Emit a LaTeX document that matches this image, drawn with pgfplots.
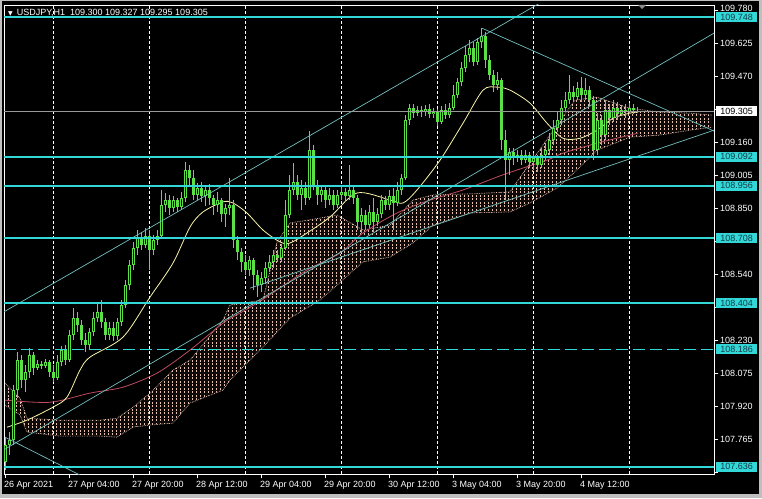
\documentclass[border=0pt]{standalone}
\usepackage{fontspec}
\setmainfont{Liberation Sans}
\newfontfamily\symfont{DejaVu Sans}
\usepackage{xcolor}
\usepackage{pgfplots}
\pgfplotsset{compat=1.18}
\usepackage{pgfplotstable}
\usepgfplotslibrary{fillbetween}
\usetikzlibrary{patterns}

\definecolor{cg}{RGB}{90,225,70}
\definecolor{hl}{RGB}{50,215,215}
\definecolor{tl}{RGB}{115,190,190}
\definecolor{maY}{RGB}{250,245,170}
\definecolor{maR}{RGB}{190,75,95}
\definecolor{cloud}{RGB}{230,190,175}
\definecolor{boxtxt}{RGB}{20,60,70}
\pagecolor{black}

% short vertical dashes, like the hatch of the Ichimoku cloud
\pgfdeclarepatternformonly{vdash}{\pgfqpoint{0pt}{0pt}}{\pgfqpoint{1pt}{2pt}}{\pgfqpoint{4pt}{3.5pt}}%
{\pgfpathrectangle{\pgfqpoint{0pt}{0pt}}{\pgfqpoint{0.8pt}{2pt}}\pgfusepath{fill}}

% USDJPY H1, x = hour index (0 = 26 Apr 12:00)
\pgfplotstableread{
i o h l c
0 107.657 107.774 107.619 107.736
1 107.736 107.798 107.690 107.760
2 107.760 108.018 107.736 107.995
3 107.995 108.174 107.957 108.136
4 108.136 108.159 108.004 108.042
5 108.042 108.113 107.986 108.080
6 108.080 108.192 108.051 108.159
7 108.159 108.174 108.066 108.098
8 108.098 108.136 108.089 108.117
9 108.117 108.131 108.094 108.108
10 108.108 108.141 108.098 108.127
11 108.127 108.136 108.056 108.080
12 108.080 108.113 108.033 108.051
13 108.051 108.159 108.042 108.127
14 108.127 108.202 108.108 108.183
15 108.183 108.207 108.113 108.136
16 108.136 108.277 108.127 108.254
17 108.254 108.380 108.230 108.333
18 108.333 108.362 108.268 108.300
19 108.300 108.324 108.207 108.230
20 108.230 108.263 108.174 108.207
21 108.207 108.286 108.183 108.268
22 108.268 108.362 108.249 108.333
23 108.333 108.409 108.315 108.362
24 108.362 108.418 108.286 108.315
25 108.315 108.333 108.230 108.254
26 108.254 108.315 108.230 108.286
27 108.286 108.315 108.225 108.249
28 108.249 108.333 108.230 108.315
29 108.315 108.418 108.296 108.395
30 108.395 108.512 108.380 108.488
31 108.488 108.606 108.465 108.583
32 108.583 108.691 108.559 108.662
33 108.662 108.747 108.630 108.709
34 108.709 108.738 108.653 108.677
35 108.677 108.756 108.662 108.719
36 108.719 108.747 108.559 108.653
37 108.653 108.724 108.630 108.700
38 108.700 108.747 108.677 108.719
39 108.719 108.935 108.709 108.865
40 108.865 108.921 108.832 108.888
41 108.888 108.912 108.818 108.850
42 108.850 108.907 108.832 108.888
43 108.888 108.897 108.832 108.855
44 108.855 108.926 108.841 108.897
45 108.897 109.066 108.879 109.029
46 109.029 109.052 108.959 108.991
47 108.991 109.029 108.888 108.912
48 108.912 108.968 108.888 108.944
49 108.944 108.973 108.879 108.907
50 108.907 108.959 108.860 108.935
51 108.935 108.963 108.865 108.897
52 108.897 108.912 108.818 108.865
53 108.865 108.926 108.832 108.888
54 108.888 108.897 108.785 108.822
55 108.822 108.869 108.761 108.850
56 108.850 108.991 108.818 108.865
57 108.865 108.888 108.662 108.700
58 108.700 108.719 108.606 108.644
59 108.644 108.662 108.550 108.597
60 108.597 108.630 108.536 108.559
61 108.559 108.625 108.531 108.606
62 108.606 108.615 108.465 108.536
63 108.536 108.559 108.432 108.488
64 108.488 108.550 108.456 108.521
65 108.521 108.597 108.493 108.568
66 108.568 108.630 108.550 108.597
67 108.597 108.653 108.568 108.630
68 108.630 108.653 108.597 108.615
69 108.615 108.681 108.597 108.662
70 108.662 108.888 108.653 108.818
71 108.818 109.006 108.803 108.935
72 108.935 109.061 108.912 108.973
73 108.973 109.006 108.888 108.912
74 108.912 108.982 108.841 108.944
75 108.944 108.973 108.865 108.897
76 108.897 109.211 108.888 109.122
77 109.122 109.146 108.935 108.959
78 108.959 108.982 108.865 108.912
79 108.912 108.959 108.879 108.935
80 108.935 108.954 108.850 108.888
81 108.888 108.944 108.865 108.912
82 108.912 108.935 108.841 108.865
83 108.865 108.935 108.850 108.912
84 108.912 108.954 108.888 108.926
85 108.926 108.944 108.879 108.907
86 108.907 109.052 108.888 108.935
87 108.935 108.954 108.869 108.897
88 108.897 108.912 108.747 108.785
89 108.785 108.850 108.733 108.818
90 108.818 108.841 108.747 108.770
91 108.770 108.865 108.756 108.832
92 108.832 108.897 108.738 108.785
93 108.785 108.850 108.766 108.822
94 108.822 108.912 108.803 108.888
95 108.888 108.907 108.841 108.865
96 108.865 108.935 108.841 108.907
97 108.907 108.944 108.747 108.874
98 108.874 108.973 108.860 108.935
99 108.935 109.010 108.912 108.991
100 108.991 109.287 108.982 109.263
101 109.263 109.338 109.240 109.319
102 109.319 109.338 109.272 109.296
103 109.296 109.329 109.282 109.310
104 109.310 109.329 109.277 109.301
105 109.301 109.334 109.282 109.315
106 109.315 109.338 109.272 109.291
107 109.291 109.319 109.272 109.301
108 109.301 109.315 109.235 109.254
109 109.254 109.329 109.244 109.310
110 109.310 109.338 109.268 109.287
111 109.287 109.343 109.272 109.319
112 109.319 109.428 109.310 109.380
113 109.380 109.460 109.366 109.442
114 109.442 109.536 109.423 109.507
115 109.507 109.611 109.489 109.569
116 109.569 109.639 109.536 109.601
117 109.601 109.630 109.517 109.536
118 109.536 109.648 109.521 109.630
119 109.630 109.695 109.601 109.658
120 109.658 109.677 109.507 109.545
121 109.545 109.569 109.451 109.475
122 109.475 109.498 109.395 109.428
123 109.428 109.489 109.404 109.451
124 109.451 109.460 109.122 109.169
125 109.169 109.216 108.888 109.075
126 109.075 109.131 109.006 109.113
127 109.113 109.131 109.052 109.084
128 109.084 109.122 109.066 109.099
129 109.099 109.122 109.052 109.075
130 109.075 109.122 109.061 109.099
131 109.099 109.113 109.038 109.066
132 109.066 109.108 109.029 109.084
133 109.084 109.099 109.020 109.052
134 109.052 109.131 109.038 109.099
135 109.099 109.155 109.075 109.122
136 109.122 109.202 109.099 109.169
137 109.169 109.263 109.146 109.225
138 109.225 109.301 109.207 109.263
139 109.263 109.357 109.240 109.319
140 109.319 109.395 109.301 109.357
141 109.357 109.475 109.338 109.395
142 109.395 109.423 109.348 109.371
143 109.371 109.442 109.357 109.413
144 109.413 109.465 109.348 109.380
145 109.380 109.460 109.357 109.404
146 109.404 109.423 109.329 109.357
147 109.357 109.376 109.075 109.122
148 109.122 109.296 109.099 109.263
149 109.263 109.287 109.146 109.193
150 109.193 109.357 109.169 109.310
151 109.310 109.338 109.240 109.272
152 109.272 109.357 109.254 109.319
153 109.319 109.348 109.263 109.291
154 109.291 109.334 109.282 109.310
155 109.310 109.338 109.272 109.301
156 109.301 109.343 109.291 109.319
157 109.319 109.338 109.291 109.310
158 109.300 109.327 109.295 109.305
}\candles

\begin{document}
\begin{tikzpicture}[x=1pt,y=1pt]
\path (0,0) rectangle (762,498);
\fill[black!25] (0,0) rectangle (2,498);
\fill[black!25] (759,0) rectangle (762,498);
\fill[black!25] (0,0) rectangle (762,4);
\fill[black!25] (0,497) rectangle (762,498);

\begin{axis}[
  at={(4pt,24pt)}, anchor=south west,
  scale only axis, width=710pt, height=469pt,
  xmin=-0.25, xmax=177.25, ymin=107.601, ymax=109.804,
  axis line style={white, line width=0.8pt},
  xtick={0,16,32,48,64,80,96,112,128,144},
  xticklabels={26 Apr 2021,27 Apr 04:00,27 Apr 20:00,28 Apr 12:00,29 Apr 04:00,29 Apr 20:00,30 Apr 12:00,3 May 04:00,3 May 20:00,4 May 12:00},
  ytick={107.610,107.765,107.920,108.075,108.230,108.385,108.540,108.695,108.850,109.005,109.160,109.315,109.470,109.625,109.780},
  yticklabels={,107.765,107.920,108.075,108.230,,108.540,,108.850,109.005,109.160,,109.470,109.625,\raisebox{4pt}{109.780}},
  xtick pos=lower, ytick pos=right, yticklabel pos=right,
  tick align=outside, major tick length=4pt,
  tick style={white, line width=0.8pt},
  ticklabel style={font=\fontsize{9}{10}\selectfont, text=white},
  xticklabel style={anchor=north west, inner sep=0pt, xshift=-1pt, yshift=-3pt},
  yticklabel style={anchor=west, inner sep=0pt, xshift=2pt},
  extra x ticks={12,36,60,84,108,132,156},
  extra x tick labels={},
  extra x tick style={grid=major, major tick length=0pt,
    major grid style={white, dash pattern=on 3pt off 2pt, line width=0.8pt}},
]
% Ichimoku cloud (span A / span B)
\addplot[name path=sa, cloud, densely dotted, line width=0.7pt] coordinates {
(0,108.028)(3.75,107.957)(5.5,107.863)(13.75,107.854)(23.75,107.854)(28,107.863)(32,107.915)(36.25,107.981)(42,108.089)(46.25,108.136)(54.5,108.324)(56.25,108.395)(64.5,108.418)(68,108.691)(71.25,108.780)(78.75,108.803)(83,108.818)(89.5,108.747)(96.25,108.770)(102,108.888)(107,108.912)(116.25,108.917)(126.25,108.926)(131.25,109.061)(138,109.240)(142.5,109.357)(148,109.371)(156.25,109.319)(163.75,109.301)(171.25,109.296)(176.75,109.287)};
\addplot[name path=sb, cloud, densely dotted, line width=0.7pt] coordinates {
(0,107.925)(3.75,107.878)(5.5,107.798)(13.75,107.779)(23.75,107.779)(28,107.774)(32,107.821)(36.25,107.831)(42,107.840)(46.25,107.934)(54.5,107.995)(56.25,108.042)(64.5,108.197)(68,108.268)(71.25,108.333)(78.75,108.418)(83,108.488)(89.5,108.597)(96.25,108.620)(102,108.686)(107,108.770)(116.25,108.827)(126.25,108.832)(131.25,108.874)(138,108.944)(142.5,109.020)(148,109.122)(156.25,109.183)(163.75,109.193)(171.25,109.216)(176.75,109.230)};
\addplot[fill=cloud, fill opacity=0.06, draw=none] fill between[of=sa and sb];
\addplot[pattern=vdash, pattern color=cloud, draw=none] fill between[of=sa and sb];

% moving averages
\addplot[maR, line width=0.8pt, smooth] coordinates {
(0,107.948)(11.25,107.938)(21.25,107.981)(29.5,108.009)(38,108.075)(46.25,108.183)(54.5,108.310)(58.75,108.357)(63,108.404)(68,108.465)(75.5,108.559)(83.75,108.639)(89.5,108.733)(98,108.827)(106.25,108.888)(114.5,108.935)(123,108.996)(128,109.029)(135.5,109.075)(139.5,109.108)(148,109.155)(156.25,109.193)(158.25,109.202)};
\addplot[maY, line width=0.8pt, smooth] coordinates {
(0.5,107.821)(5.5,107.854)(12,107.915)(15.5,107.962)(18.75,108.089)(21.25,108.150)(29.5,108.244)(36.25,108.432)(42,108.592)(46.25,108.761)(49.5,108.832)(54.5,108.879)(57,108.874)(60.5,108.827)(64.5,108.747)(68.75,108.691)(71.25,108.686)(75.5,108.733)(81.25,108.808)(88,108.921)(96.25,108.888)(99.5,108.874)(103,108.935)(108.75,109.075)(114.5,109.249)(119.5,109.404)(123,109.418)(126.25,109.404)(131.25,109.343)(135.5,109.249)(139.5,109.178)(143.75,109.178)(148,109.216)(152,109.272)(156.25,109.296)(158.25,109.301)};

% candles: wicks, bodies, hollow centre of rising candles
\addplot[draw=none, mark=none, error bars/.cd, y dir=plus, y explicit, error mark=none,
  error bar style={draw=cg, line width=1pt, solid}]
  table[x=i, y=l, y error plus expr={\thisrow{h}-\thisrow{l}}] {\candles};
\addplot[draw=none, mark=none, error bars/.cd, y dir=plus, y explicit, error mark=none,
  error bar style={draw=cg, line width=3pt, solid}]
  table[x=i, y expr={min(\thisrow{o},\thisrow{c})}, y error plus expr={abs(\thisrow{c}-\thisrow{o})}] {\candles};
\addplot[draw=none, mark=none, error bars/.cd, y dir=plus, y explicit, error mark=none,
  error bar style={draw=black, line width=1pt, solid}]
  table[x=i, y expr={\thisrow{o}+0.0047}, y error plus expr={max(0,\thisrow{c}-\thisrow{o}-0.0094)}] {\candles};

% trend lines
\addplot[tl, line width=0.7pt] coordinates {(-1.25,108.352)(135,109.827)};
\addplot[tl, line width=0.7pt] coordinates {(-1.25,107.704)(177.25,109.672)};
\addplot[tl, line width=0.7pt] coordinates {(61.25,108.474)(177.25,109.216)};
\addplot[tl, line width=0.7pt] coordinates {(0,107.774)(18.75,107.596)};
\addplot[tl, line width=0.7pt] coordinates {(119.25,109.695)(177.25,109.212)};

% horizontal levels
\addplot[hl, line width=2pt] coordinates {(-0.25,109.748)(177.25,109.748)};
\addplot[hl, line width=2pt] coordinates {(-0.25,109.092)(177.25,109.092)};
\addplot[hl, line width=2pt] coordinates {(-0.25,108.956)(177.25,108.956)};
\addplot[hl, line width=2pt] coordinates {(-0.25,108.708)(177.25,108.708)};
\addplot[hl, line width=2pt] coordinates {(-0.25,108.404)(177.25,108.404)};
\addplot[hl, line width=1.5pt, dash pattern=on 12pt off 5pt] coordinates {(-0.25,108.186)(177.25,108.186)};
\addplot[hl, line width=2pt] coordinates {(-0.25,107.636)(177.25,107.636)};
\addplot[black!40, line width=0.8pt] coordinates {(-0.25,109.305)(177.25,109.305)};

\coordinate (b1) at (axis cs:177.25,109.748);
\coordinate (b2) at (axis cs:177.25,109.092);
\coordinate (b3) at (axis cs:177.25,108.956);
\coordinate (b4) at (axis cs:177.25,108.708);
\coordinate (b5) at (axis cs:177.25,108.404);
\coordinate (b6) at (axis cs:177.25,108.186);
\coordinate (b7) at (axis cs:177.25,107.636);
\coordinate (bp) at (axis cs:177.25,109.305);
\end{axis}

\tikzset{lvl/.style={anchor=west, fill=hl, text=boxtxt, inner sep=0pt,
  minimum width=41pt, minimum height=10pt, font=\fontsize{9}{10}\selectfont, xshift=2pt}}
\node[lvl] at (b1) {109.748};
\node[lvl] at (b2) {109.092};
\node[lvl] at (b3) {108.956};
\node[lvl] at (b4) {108.708};
\node[lvl] at (b5) {108.404};
\node[lvl] at (b6) {108.186};
\node[lvl] at (b7) {107.636};
\node[lvl, fill=white, text=black] at (bp) {109.305};

\node[anchor=west, text=white, inner sep=0pt, font=\fontsize{9}{10}\selectfont] at (8,485)
  {{\symfont\fontsize{6}{7}\selectfont ▼}\hspace{4pt}USDJPY,H1\hspace{5pt}109.300 109.327 109.295 109.305};
\fill[black!45] (638,493) -- (646,493) -- (642,489) -- cycle;
\end{tikzpicture}
\end{document}
